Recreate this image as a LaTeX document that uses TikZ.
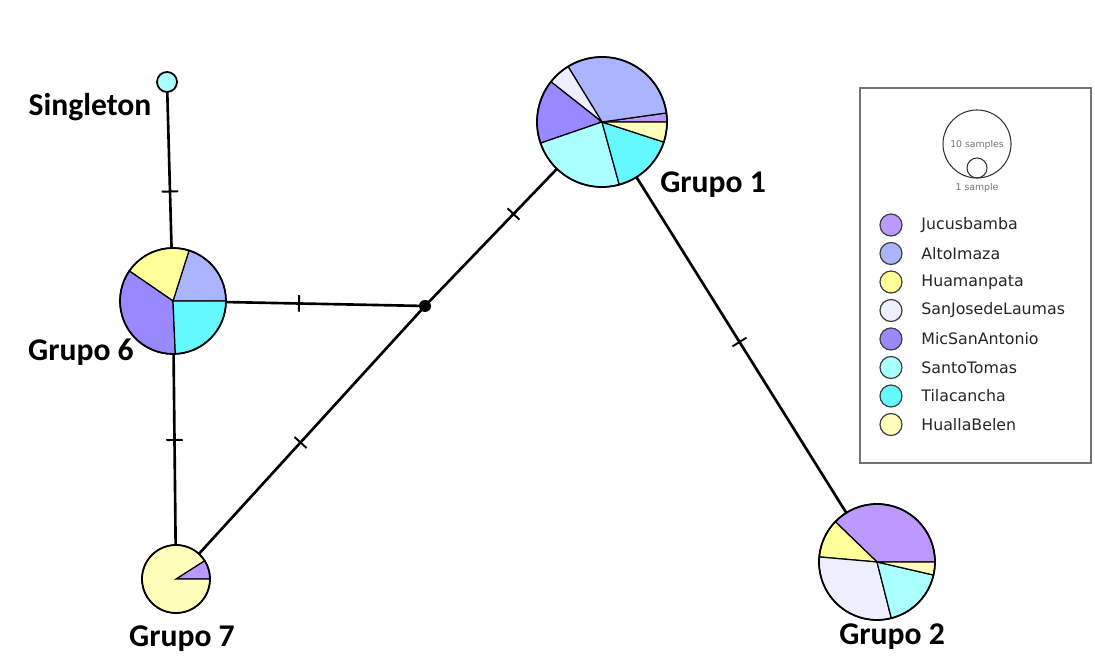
\documentclass[tikz,border=0pt]{standalone}
\usepackage{fontspec}
\setmainfont{Carlito}
\newfontfamily\legfont{DejaVu Sans}
\definecolor{cJuc}{HTML}{BB99FF}
\definecolor{cAlt}{HTML}{AAB4FF}
\definecolor{cHua}{HTML}{FFFF99}
\definecolor{cSJL}{HTML}{EEEEFF}
\definecolor{cMic}{HTML}{9988FF}
\definecolor{cSTo}{HTML}{AAFFFF}
\definecolor{cTil}{HTML}{66F8FF}
\definecolor{cHBe}{HTML}{FFFFBB}
\newcommand{\drawpie}[3]{%
  \foreach \a/\b/\c in {#3}{%
    \filldraw[fill=\c, draw=black, line width=0.7pt] (#1) -- ++(\a:#2) arc[start angle=\a, end angle=\b, radius=#2] -- cycle;}%
  \draw[line width=1pt] (#1) circle[radius=#2];}
\tikzset{
  link/.style={line width=1.5pt, black},
  tickmark/.style={draw, line width=1.1pt, minimum width=0pt, minimum height=0.33cm, inner sep=0pt, sloped, midway, rectangle},
  glabel/.style={font=\fontsize{18}{20}\selectfont\bfseries, inner sep=0pt},
  legtext/.style={font=\legfont\fontsize{9}{10}\selectfont, text=black!85, anchor=west, inner sep=0pt},
  legdot/.style={draw=black!75, line width=0.7pt},
}
\begin{document}
\begin{tikzpicture}[x=0.02cm,y=0.02cm]
\useasboundingbox (0,0) rectangle (1095,661);
% centres
\coordinate (g1) at (602,539);
\coordinate (g6) at (173,360);
\coordinate (g2) at (877,99);
\coordinate (g7) at (176,82);
\coordinate (s) at (167,579);
\coordinate (j) at (425,355);
% connectors
\draw[link] (s) -- (g6) node[tickmark]{};
\draw[link] (g6) -- (g7) node[tickmark]{};
\draw[link] (g6) -- (j) node[tickmark]{};
\draw[link] (j) -- (g1) node[tickmark]{};
\draw[link] (j) -- (g7) node[tickmark]{};
\draw[link] (g1) -- (g2) node[tickmark]{};
\fill (j) circle[radius=6];
% pies
\drawpie{g1}{65}{0/8/cJuc, 8/121.5/cAlt, 121.5/141.8/cSJL, 141.8/199/cMic, 199/285.4/cSTo, 285.4/342/cTil, 342/360/cHBe}
\drawpie{g6}{53}{0/72.4/cAlt, 72.4/145.5/cHua, 145.5/272.5/cMic, 272.5/360/cTil}
\drawpie{g2}{58}{0/136/cJuc, 136/175/cHua, 175/284.3/cSJL, 284.3/347/cSTo, 347/360/cHBe}
\drawpie{g7}{34}{0/32.6/cJuc, 32.6/360/cHBe}
\filldraw[fill=cSTo, draw=black, line width=1pt] (s) circle[radius=10];
% labels
\node[glabel] (ls) at (90,554) {Singleton};
\node[glabel] (l6) at (81,309) {Grupo 6};
\node[glabel] (l1) at (713,476) {Grupo 1};
\node[glabel] (l7) at (182,22) {Grupo 7};
\node[glabel] (l2) at (892,24) {Grupo 2};
% legend
\draw[draw=black!55, line width=1pt] (860,573) rectangle (1091,198);
\draw[black!80, line width=0.6pt] (977,517) circle[radius=34];
\draw[black!80, line width=0.6pt] (977,493) circle[radius=10];
\node[font=\legfont\fontsize{5.3}{6}\selectfont, text=black!55, inner sep=0pt] (t10) at (977,516) {10 samples};
\node[font=\legfont\fontsize{5.3}{6}\selectfont, text=black!55, inner sep=0pt] (t1) at (977,473) {1 sample};
\foreach \n/\c [count=\i from 0] in {Jucusbamba/cJuc, AltoImaza/cAlt, Huamanpata/cHua, SanJosedeLaumas/cSJL, MicSanAntonio/cMic, SantoTomas/cSTo, Tilacancha/cTil, HuallaBelen/cHBe}{
  \filldraw[legdot, fill=\c] (891,436-28.5*\i) circle[radius=11];
  \node[legtext] (leg\i) at (921,436-28.5*\i) {\n};
}
\end{tikzpicture}
\end{document}
